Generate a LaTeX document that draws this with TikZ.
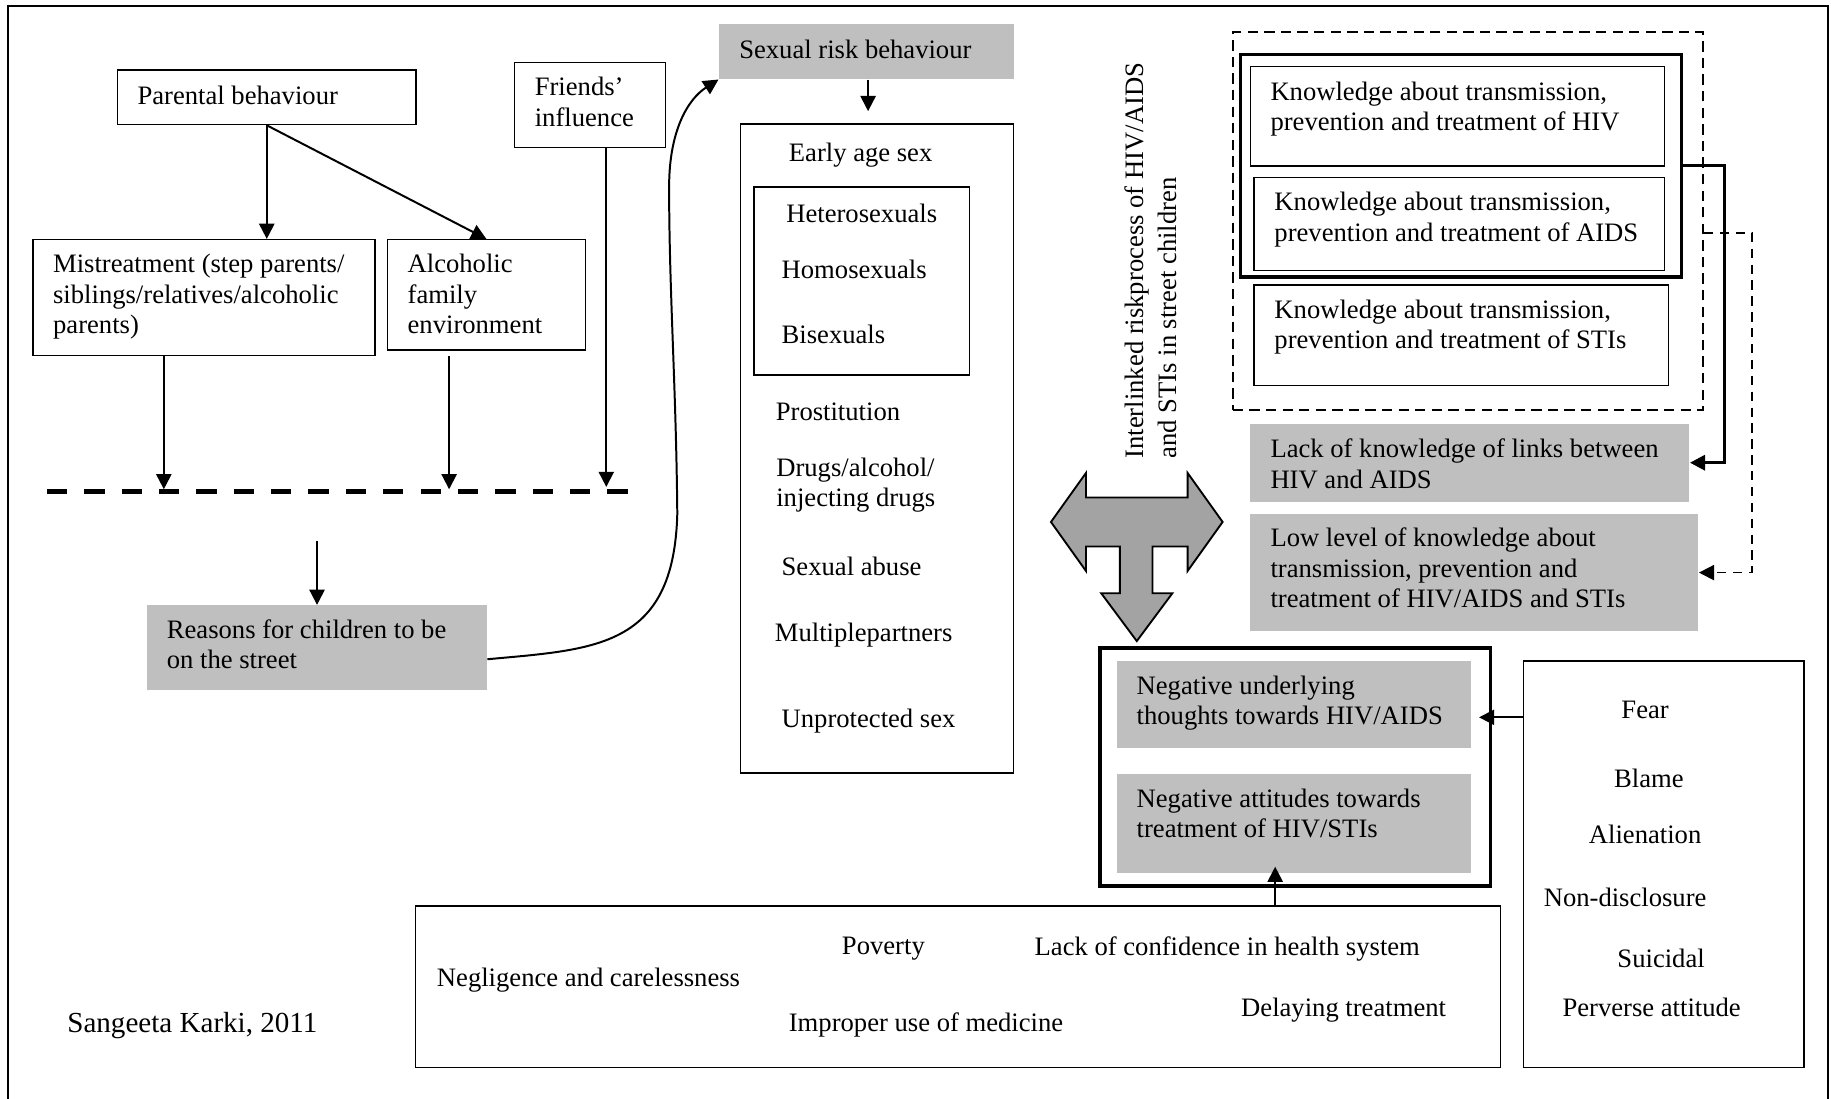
\documentclass[tikz,border=0pt]{standalone}
\usepackage{fontspec}
\setmainfont{Liberation Serif}
\usetikzlibrary{arrows.meta,fit}
\definecolor{boxgray}{RGB}{191,191,191}
\definecolor{tgray}{RGB}{163,163,163}
\newcommand\fsz{\fontsize{11.4pt}{13pt}\selectfont}
\begin{document}
\begin{tikzpicture}[x=0.5pt,y=-0.5pt,
  box/.style={draw, line width=0.6pt, inner sep=0pt},
  gbox/.style={fill=boxgray, inner sep=0pt},
  tbox/.style={draw, line width=1.4pt, inner sep=0pt},
  dbox/.style={draw, line width=0.85pt, dash pattern=on 4.4pt off 2.7pt, inner sep=0pt},
  txt/.style={font=\fsz, align=left, inner sep=0pt, anchor=west,
    execute at begin node=\strut, execute at end node=\strut},
  ctxt/.style={txt, anchor=center, align=center},
  arr/.style={line width=0.85pt, -{Triangle[length=6.5pt,width=6.5pt]}},
  arrthick/.style={line width=1.3pt, -{Triangle[length=6.5pt,width=6.5pt]}},
  arrdash/.style={line width=0.75pt, dash pattern=on 4pt off 2.8pt, -{Triangle[length=6.5pt,width=6.5pt]}}
]
\useasboundingbox (0,0) rectangle (1568,940.3);
% outer frame
\draw[line width=1pt] (6.9,945) -- (6.9,5.4) -- (1565.4,5.4) -- (1565.4,945);

% ---------- left part ----------
\node[box, fit={(100.6,60.1) (356.3,106.7)}] (parental) {};
\node[txt] (parental-t) at (117.4,84) {Parental behaviour};

\node[box, fit={(440.8,53.5) (570,126.2)}] (friends) {};
\node[txt] (friends-t) at (457.6,91) {Friends’\\influence};

\node[box, fit={(28.3,205.2) (321.2,304.4)}] (mistreat) {};
\node[txt] (mistreat-t) at (45.1,255.5) {Mistreatment (step parents/\\siblings/relatives/alcoholic\\parents)};

\node[box, fit={(331.8,205.2) (501.2,299.6)}] (alcohol) {};
\node[txt] (alcohol-t) at (348.7,255.5) {Alcoholic\\family\\environment};

\draw[line width=2.4pt, dash pattern=on 8.7pt off 7.3pt] (40.1,421) coordinate (dl1) -- (537.6,421) coordinate (dl2);

\coordinate (d1) at (140.3,419);
\coordinate (d2) at (384.6,419);
\coordinate (d3) at (519.2,417);
\draw[arr] (parental.south) -- (parental.south |- mistreat.north);
\draw[arr] (parental.south) -- (alcohol.north);
\draw[arr] (mistreat.south -| d1) -- (d1);
\draw[arr, shorten <=2.5pt] (alcohol.south -| d2) -- (d2);
\draw[arr] (friends.south -| d3) -- (d3);

\node[gbox, fit={(125.7,518.4) (417,591.3)}] (reasons) {};
\node[txt] (reasons-t) at (142.5,555.5) {Reasons for children to be\\on the street};
\coordinate (c4) at (271.5,463.3);
\draw[arr] (c4) -- (c4 |- reasons.north);

% ---------- sexual risk behaviour ----------
\node[gbox, fit={(615.7,20.5) (868,67.7)}] (srb) {};
\node[txt] (srb-t) at (632.7,44.5) {Sexual risk behaviour};

\draw[arr] ([yshift=-4.85pt]reasons.east) .. controls (510,556) and (577,555) .. (580,440)
  .. controls (579,330) and (573,250) .. (573,160)
  .. controls (573,112) and (589,85) .. (srb.south west);

\node[box, fit={(634,106.2) (868,662)}] (risks) {};
\coordinate (c8) at (743.4,95.2);
\draw[arr] (c8 |- srb.south) -- (c8);

\node[ctxt] (early) at (737,133) {Early age sex};
\node[box, fit={(645.7,160.3) (830.4,321.2)}] (orient) {};
\node[txt] (hetero) at (673,185.5) {Heterosexuals};
\node[txt] (homo) at (669,233.6) {Homosexuals};
\node[txt] (bi) at (669,289) {Bisexuals};
\node[txt] (prost) at (664,355) {Prostitution};
\node[txt] (drugs) at (664.4,417) {Drugs/alcohol/\\injecting drugs};
\node[txt] (abuse) at (669,488) {Sexual abuse};
\node[txt] (multi) at (663.2,544) {Multiplepartners};
\node[txt] (unprot) at (669,618) {Unprotected sex};

% ---------- rotated title and T arrow ----------
\node[txt, font=\fontsize{11.4pt}{14pt}\selectfont, rotate=90, anchor=west] (title) at (989.5,393)
  {Interlinked riskprocess of HIV/AIDS\\and STIs in street children};

\draw[fill=tgray, line width=0.8pt, line join=miter]
  (900,447) -- (930,405) -- (930,426) -- (1017,426) -- (1017,405) -- (1047,447)
  -- (1017,489) -- (1017,468) -- (987,468) -- (987,508) -- (1004,508) -- (973.5,549)
  -- (943,508) -- (959,508) -- (959,468) -- (930,468) -- (930,489) -- cycle;

% ---------- knowledge boxes ----------
\node[dbox, fit={(1055.7,27.7) (1458.4,351.5)}] (kdash) {};
\node[tbox, fit={(1062.1,46.9) (1440,237.2)}] (kframe) {};
\node[box, fit={(1071,56.8) (1425.5,142)}] (khiv) {};
\node[txt] (khiv-t) at (1087.6,95) {Knowledge about transmission,\\prevention and treatment of HIV};
\node[box, fit={(1074,152) (1425.5,231.5)}] (kaids) {};
\node[txt] (kaids-t) at (1091,189.5) {Knowledge about transmission,\\prevention and treatment of AIDS};
\node[box, fit={(1074,244) (1429,330)}] (ksti) {};
\node[txt] (ksti-t) at (1091,281.8) {Knowledge about transmission,\\prevention and treatment of STIs};

\node[gbox, fit={(1070.7,362.9) (1446.8,429.6)}] (lack) {};
\node[txt] (lack-t) at (1087.6,400.8) {Lack of knowledge of links between\\HIV and AIDS};
\node[gbox, fit={(1070.7,440.3) (1454.5,540.4)}] (low) {};
\node[txt] (low-t) at (1087.6,490.2) {Low level of knowledge about\\transmission, prevention and\\treatment of HIV/AIDS and STIs};

\draw[arrthick] (kframe.east) -- ++(35,0) |- (lack.east);
\draw[arrdash] ([yshift=-5pt]kdash.east) -- ++(41,0) |- (low.east);

% ---------- negative thoughts ----------
\node[tbox, fit={(941.9,554.9) (1276.2,758.8)}] (negframe) {};
\node[gbox, fit={(956.8,566) (1259.6,640.3)}] (neg1) {};
\node[txt] (neg1-t) at (973,603.6) {Negative underlying\\thoughts towards HIV/AIDS};
\node[gbox, fit={(956.8,662.9) (1259.6,747.4)}] (neg2) {};
\node[txt] (neg2-t) at (973,700.3) {Negative attitudes towards\\treatment of HIV/STIs};

\node[box, fit={(1304.8,566) (1545,914)}] (fear) {};
\node[ctxt] (fear-t) at (1408.8,610) {Fear};
\node[ctxt] (blame) at (1412,669) {Blame};
\node[ctxt] (alien) at (1408.8,717) {Alienation};
\node[ctxt] (nondis) at (1391.7,771.5) {Non-disclosure};
\node[ctxt] (suic) at (1422.5,823) {Suicidal};
\node[ctxt] (perv) at (1414.4,865.5) {Perverse attitude};

\node[box, fit={(355.8,775.9) (1284.8,914)}] (causes) {};
\node[txt] (neglig) at (373.8,840) {Negligence and carelessness};
\node[ctxt] (poverty) at (756.5,812) {Poverty};
\node[ctxt] (confid) at (1051,813) {Lack of confidence in health system};
\node[ctxt] (improper) at (793,878) {Improper use of medicine};
\node[ctxt] (delay) at (1150.6,865) {Delaying treatment};

\coordinate (c11) at (1266.6,614.3);
\draw[arr] (c11 -| fear.west) -- (c11);
\coordinate (c12) at (1092,742.2);
\draw[arr] (c12 |- causes.north) -- (c12);

\node[txt, font=\fontsize{12.45pt}{14pt}\selectfont] (author) at (57.3,879) {Sangeeta Karki, 2011};
\end{tikzpicture}
\end{document}
